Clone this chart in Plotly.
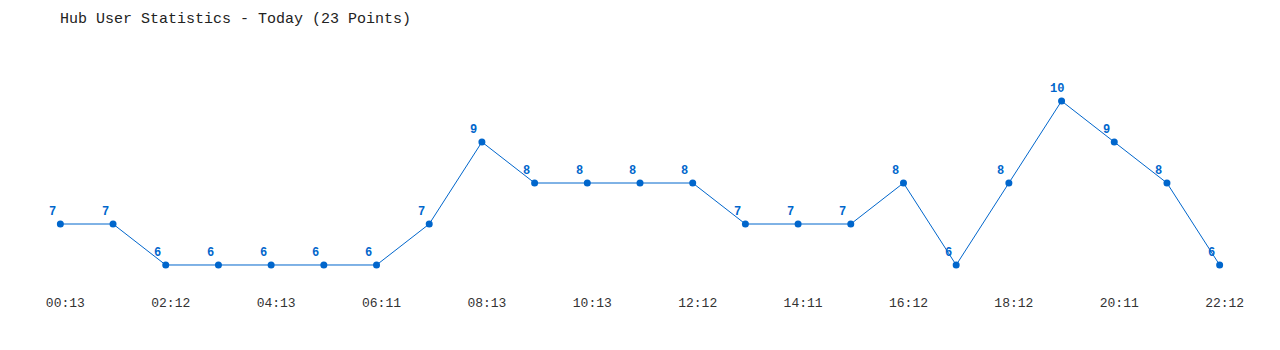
import plotly.graph_objects as go

times = ["00:13","01:12","02:12","03:12","04:13","05:12","06:11","07:12","08:13","09:12",
         "10:13","11:12","12:12","13:12","14:11","15:12","16:12","17:12","18:12","19:12",
         "20:11","21:12","22:12"]
users = [7,7,6,6,6,6,6,7,9,8,8,8,8,7,7,7,8,6,8,10,9,8,6]
tick_idx = list(range(0, 23, 2))
tick_labels = [times[i] for i in tick_idx]

blue = "#0066CC"
idx = list(range(len(users)))

fig = go.Figure()
fig.add_trace(go.Scatter(
    x=idx, y=users, mode="lines+markers",
    line=dict(color=blue, width=1),
    marker=dict(color=blue, size=7),
    hoverinfo="skip",
))
for i, v in zip(idx, users):
    s = str(v)
    fig.add_annotation(x=i, y=v, text=s, showarrow=False,
                       xanchor="center", yanchor="middle",
                       xshift=-8 + 3 * (len(s) - 1), yshift=12,
                       font=dict(family="Liberation Mono", size=12, color=blue, weight="bold"))
fig.update_layout(
    width=1280, height=350,
    margin=dict(l=34, r=34, t=40, b=65),
    paper_bgcolor="white", plot_bgcolor="white",
    showlegend=False,
    title=dict(text="Hub User Statistics - Today (23 Points)", x=60/1280, xanchor="left",
               y=1-18/350, yanchor="middle",
               font=dict(family="Liberation Mono", size=15, color="#222222")),
    xaxis=dict(range=[-0.5, 22.5], showgrid=False, zeroline=False, showline=False,
               tickmode="array", tickvals=tick_idx, ticktext=tick_labels,
               ticks="", ticklabelshift=5, ticklabelstandoff=8,
               tickfont=dict(family="Liberation Mono", size=13, color="#333333")),
    yaxis=dict(range=[5.512, 11.488], visible=False),
)
fig.write_html("out.html")
